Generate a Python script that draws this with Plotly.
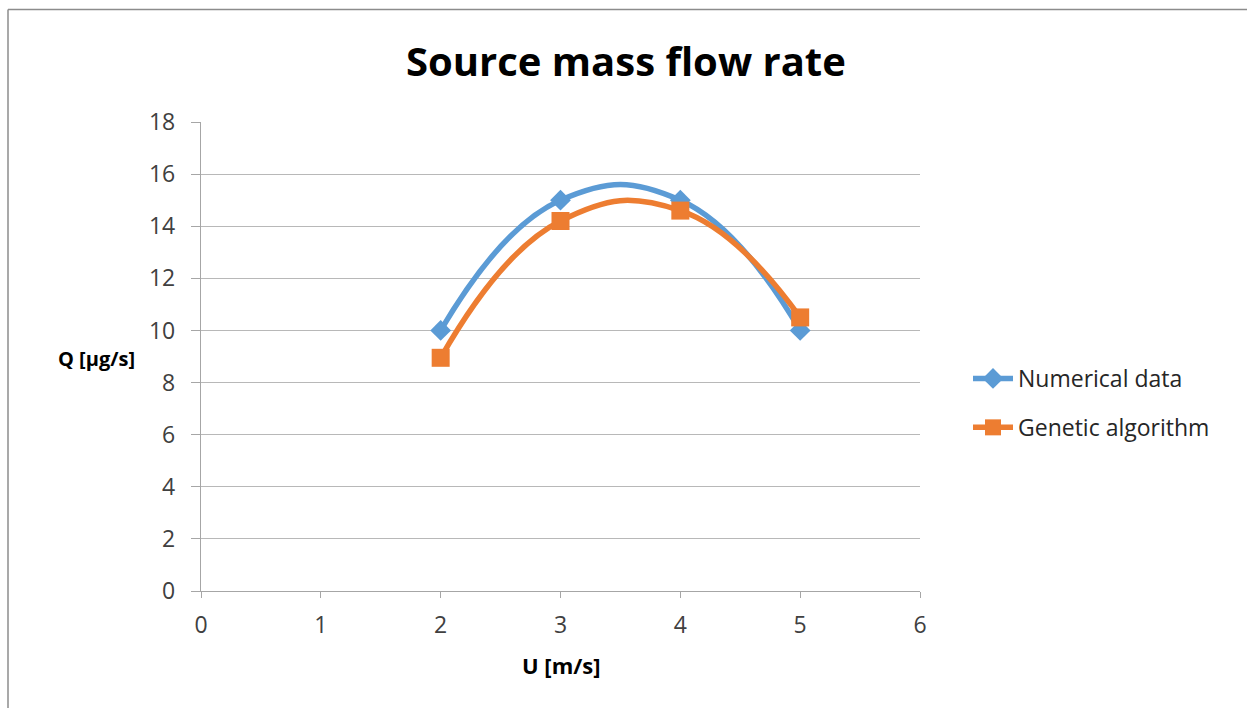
import plotly.graph_objects as go

u_values = [2, 3, 4, 5]
numerical_q = [10.0, 15.0, 15.0, 10.0]
genetic_q = [8.95, 14.2, 14.6, 10.5]
series_names = ["Numerical data", "Genetic algorithm"]
title_text = "Source mass flow rate"
x_title = "U [m/s]"
y_title = "Q [μg/s]"

W, H = 1247, 708
L, R, T, B = 201, 920, 122, 591
pw, ph = R - L, B - T

def px(x):
    return (x - L) / pw

def py(y):
    return (B - y) / ph

FONT = "'Open Sans', 'Liberation Sans', sans-serif"

fig = go.Figure()
fig.add_trace(go.Scatter(
    x=u_values, y=numerical_q, name=series_names[0], mode="lines+markers",
    line=dict(color="#5B9BD5", width=5.5, shape="spline", smoothing=1.3),
    marker=dict(symbol="diamond", size=16, color="#5B9BD5"),
    legendgroup="a",
))
fig.add_trace(go.Scatter(
    x=u_values, y=genetic_q, name=series_names[1], mode="lines+markers",
    line=dict(color="#ED7D31", width=5.5, shape="spline", smoothing=1.3),
    marker=dict(symbol="square", size=18, color="#ED7D31"),
    legendgroup="b",
))

fig.update_layout(
    width=W, height=H,
    margin=dict(l=L, r=W - R, t=T, b=H - B, autoexpand=False),
    paper_bgcolor="white", plot_bgcolor="white",
    font=dict(family=FONT, size=23, color="#404040"),
    showlegend=True,
    legend=dict(x=px(968), y=py(403), xanchor="left", yanchor="middle",
                font=dict(size=23, color="#262626"), tracegroupgap=16,
                itemwidth=40, bgcolor="rgba(0,0,0,0)"),
    xaxis=dict(range=[0, 6], dtick=1, tick0=0, showgrid=False, zeroline=False,
               showline=True, linecolor="#a6a6a6", linewidth=1.3,
               ticks="outside", ticklen=6, tickcolor="#a6a6a6",
               tickfont=dict(size=23, color="#404040"), ticklabelstandoff=7,
               fixedrange=True),
    yaxis=dict(range=[0, 18], dtick=2, tick0=0, showgrid=True,
               gridcolor="#b8b8b8", gridwidth=1.3, zeroline=False,
               showline=True, linecolor="#a6a6a6", linewidth=1.3,
               ticks="outside", ticklen=9, tickcolor="#a6a6a6",
               tickfont=dict(size=23, color="#404040"), ticklabelstandoff=11,
               fixedrange=True),
    annotations=[
        dict(text="<b>" + title_text + "</b>", xref="paper", yref="paper",
             x=px(626), y=py(60), xanchor="center", yanchor="middle",
             showarrow=False, font=dict(size=40, color="#000000", family=FONT)),
        dict(text="<b>" + y_title + "</b>", xref="paper", yref="paper",
             x=px(97), y=py(358), xanchor="center", yanchor="middle",
             showarrow=False, font=dict(size=20, color="#000000", family=FONT)),
        dict(text="<b>" + x_title + "</b>", xref="paper", yref="paper",
             x=px(561), y=py(665), xanchor="center", yanchor="middle",
             showarrow=False, font=dict(size=22, color="#000000", family=FONT)),
    ],
    shapes=[
        dict(type="line", xref="paper", yref="paper", x0=px(8), x1=px(1260),
             y0=py(9.5), y1=py(9.5), line=dict(color="#8c8c8c", width=1.5)),
        dict(type="line", xref="paper", yref="paper", x0=px(8), x1=px(8),
             y0=py(9.5), y1=py(720), line=dict(color="#8c8c8c", width=1.5)),
    ],
)

fig.write_html("out.html", config={"displayModeBar": False})
